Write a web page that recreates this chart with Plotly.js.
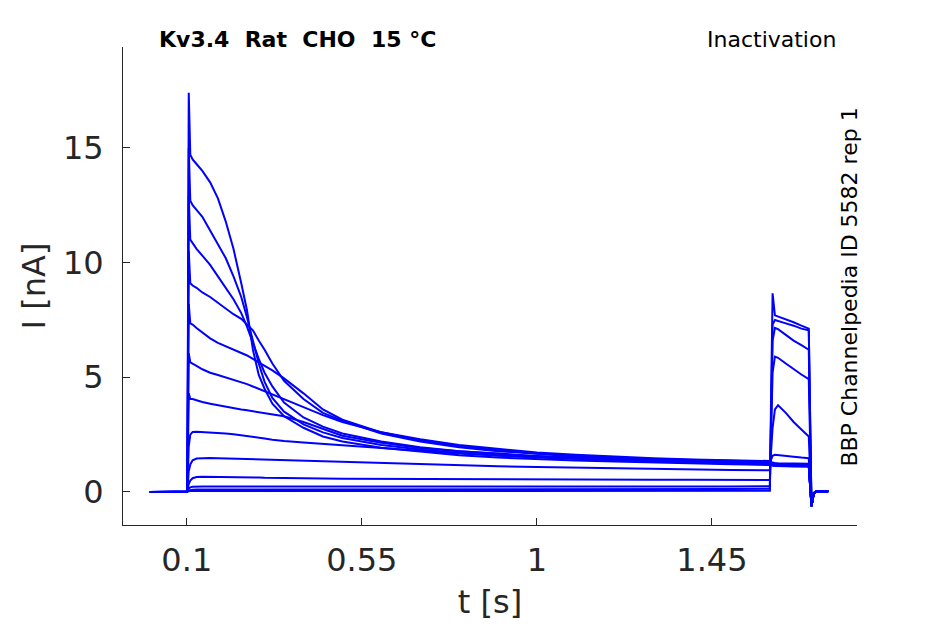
<!DOCTYPE html>
<html>
<head>
<meta charset="utf-8">
<script src="https://cdn.plot.ly/plotly-3.0.1.min.js"></script>
<style>
  html, body { margin: 0; padding: 0; background: #fff; }
  #myDiv { width: 945px; height: 624px; }
</style>
</head>
<body>
<div id="myDiv"></div>
<script>
// shared time base (s)
var t = [0.005, 0.05, 0.0995, 0.1015, 0.105, 0.109, 0.115, 0.125, 0.14, 0.16,
         0.18, 0.2, 0.22, 0.24, 0.255, 0.27, 0.285, 0.3, 0.32, 0.35,
         0.4, 0.45, 0.5, 0.6, 0.7, 0.8, 0.9, 1.0, 1.1, 1.2,
         1.3, 1.4, 1.5, 1.599, 1.602, 1.606, 1.612, 1.62, 1.64, 1.66,
         1.68, 1.699, 1.706, 1.712, 1.72, 1.749];

// currents (nA), one array per prepulse step, largest first
var i1 = [0, 0.01, 0, 0.05, 17.4, 14.7, 14.5, 14.3, 14.0, 13.5,
          12.8, 11.8, 10.6, 9.1, 7.9, 6.2, 5.1, 4.5, 3.85, 3.3,
          2.8, 2.42, 2.2, 1.93, 1.75, 1.6, 1.5, 1.43, 1.37, 1.33,
          1.28, 1.24, 1.21, 1.18, 1.15, 1.14, 1.13, 1.12, 1.12, 1.11,
          1.1, 1.1, -0.62, -0.05, 0.04, 0.03];
var i2 = [0, 0.01, 0, 0.05, 15.0, 12.7, 12.5, 12.3, 12.0, 11.4,
          10.8, 10.2, 9.4, 8.5, 7.6, 6.6, 5.6, 4.8, 4.1, 3.5,
          2.95, 2.6, 2.35, 2.05, 1.85, 1.7, 1.58, 1.5, 1.43, 1.38,
          1.33, 1.29, 1.25, 1.22, 1.19, 1.18, 1.17, 1.16, 1.15, 1.15,
          1.14, 1.14, -0.62, -0.05, 0.04, 0.03];
var i3 = [0, 0.01, 0, 0.05, 12.9, 11.0, 10.85, 10.6, 10.3, 9.9,
          9.4, 8.9, 8.4, 7.8, 7.2, 6.5, 5.8, 5.2, 4.6, 3.9,
          3.25, 2.85, 2.55, 2.2, 1.95, 1.78, 1.65, 1.55, 1.47, 1.41,
          1.36, 1.31, 1.28, 1.25, 1.22, 1.2, 1.19, 1.18, 1.17, 1.17,
          1.16, 1.16, -0.62, -0.05, 0.04, 0.03];
var i4 = [0, 0.01, 0, 0.05, 10.5, 9.1, 9.0, 8.9, 8.7, 8.5,
          8.25, 8.0, 7.75, 7.55, 7.3, 7.05, 6.6, 6.2, 5.6, 4.85,
          4.05, 3.45, 3.1, 2.55, 2.2, 1.95, 1.78, 1.65, 1.55, 1.48,
          1.42, 1.37, 1.33, 1.3, 1.26, 1.24, 1.22, 1.21, 1.2, 1.2,
          1.19, 1.19, -0.62, -0.05, 0.04, 0.03];
var i5 = [0, 0.01, 0, 0.05, 8.2, 7.35, 7.3, 7.15, 6.95, 6.7,
          6.5, 6.35, 6.2, 6.05, 5.95, 5.8, 5.65, 5.5, 5.3, 4.95,
          4.3, 3.6, 3.15, 2.6, 2.25, 2.0, 1.82, 1.68, 1.58, 1.5,
          1.44, 1.39, 1.35, 1.32, 1.27, 1.25, 1.23, 1.22, 1.21, 1.21,
          1.2, 1.2, -0.62, -0.05, 0.04, 0.03];
var i6 = [0, 0.01, 0, 0.05, 6.05, 5.65, 5.6, 5.5, 5.35, 5.2,
          5.1, 5.0, 4.9, 4.8, 4.7, 4.6, 4.5, 4.4, 4.25, 4.05,
          3.7, 3.35, 3.05, 2.6, 2.3, 2.05, 1.87, 1.72, 1.62, 1.54,
          1.47, 1.42, 1.38, 1.35, 1.3, 1.28, 1.26, 1.25, 1.24, 1.24,
          1.23, 1.23, -0.62, -0.05, 0.04, 0.03];
var i7 = [0, 0.01, 0, 0.05, 4.3, 4.05, 4.05, 4.0, 3.92, 3.85,
          3.78, 3.72, 3.66, 3.6, 3.56, 3.52, 3.46, 3.42, 3.37, 3.3,
          3.05, 2.75, 2.45, 2.15, 1.92, 1.78, 1.66, 1.57, 1.5, 1.44,
          1.39, 1.35, 1.32, 1.3, 1.26, 1.24, 1.23, 1.22, 1.21, 1.21,
          1.2, 1.2, -0.62, -0.05, 0.04, 0.03];
var i8 = [0, 0.01, 0, 0.05, 2.0, 2.5, 2.62, 2.63, 2.62, 2.6,
          2.58, 2.55, 2.52, 2.48, 2.44, 2.4, 2.37, 2.33, 2.28, 2.22,
          2.16, 2.1, 2.03, 1.9, 1.78, 1.68, 1.6, 1.53, 1.47, 1.42,
          1.38, 1.34, 1.3, 1.27, 1.4, 1.58, 1.62, 1.61, 1.57, 1.54,
          1.5, 1.47, -0.62, -0.05, 0.04, 0.03];
var i9 = [0, 0.01, 0, 0.05, 0.9, 1.2, 1.38, 1.46, 1.48, 1.48,
          1.47, 1.46, 1.45, 1.44, 1.43, 1.42, 1.41, 1.4, 1.39, 1.37,
          1.35, 1.32, 1.29, 1.24, 1.2, 1.16, 1.12, 1.09, 1.06, 1.03,
          1.0, 0.98, 0.96, 0.95, 1.6, 2.8, 3.6, 3.78, 3.45, 3.05,
          2.72, 2.42, -0.62, -0.05, 0.04, 0.03];
var i10 = [0, 0.01, 0, 0.03, 0.35, 0.5, 0.6, 0.65, 0.66, 0.66,
           0.66, 0.65, 0.65, 0.64, 0.64, 0.63, 0.63, 0.62, 0.62, 0.61,
           0.6, 0.59, 0.58, 0.57, 0.56, 0.56, 0.55, 0.55, 0.54, 0.54,
           0.53, 0.53, 0.52, 0.52, 2.5, 5.2, 5.9, 5.85, 5.6, 5.35,
           5.12, 4.92, -0.62, -0.05, 0.04, 0.03];
var i11 = [0, 0.01, 0, 0.02, 0.15, 0.2, 0.23, 0.24, 0.24, 0.24,
           0.24, 0.23, 0.23, 0.23, 0.23, 0.23, 0.23, 0.22, 0.22, 0.22,
           0.22, 0.22, 0.22, 0.21, 0.21, 0.21, 0.21, 0.21, 0.22, 0.22,
           0.22, 0.23, 0.24, 0.25, 3.0, 6.6, 7.15, 7.1, 6.85, 6.6,
           6.4, 6.2, -0.62, -0.05, 0.04, 0.03];
var i12 = [0, 0.01, 0, 0.01, 0.07, 0.09, 0.1, 0.11, 0.11, 0.1,
           0.1, 0.1, 0.1, 0.1, 0.1, 0.1, 0.1, 0.1, 0.1, 0.1,
           0.1, 0.1, 0.1, 0.1, 0.1, 0.11, 0.11, 0.11, 0.12, 0.12,
           0.12, 0.13, 0.13, 0.14, 3.5, 7.3, 7.5, 7.45, 7.35, 7.25,
           7.12, 7.05, -0.62, -0.05, 0.04, 0.03];
var i13 = [0, 0.01, 0, 0.01, 0.03, 0.04, 0.04, 0.04, 0.04, 0.04,
           0.04, 0.04, 0.04, 0.04, 0.04, 0.04, 0.04, 0.04, 0.04, 0.04,
           0.04, 0.04, 0.04, 0.04, 0.04, 0.04, 0.05, 0.05, 0.05, 0.05,
           0.05, 0.05, 0.05, 0.05, 4.0, 8.66, 7.7, 7.65, 7.55, 7.4,
           7.25, 7.12, -0.62, -0.05, 0.04, 0.03];

var xTicks = [0.1, 0.55, 1, 1.45];
var xTickText = ['0.1', '0.55', '1', '1.45'];
var yTicks = [0, 5, 10, 15];

var sweeps = [i1, i2, i3, i4, i5, i6, i7, i8, i9, i10, i11, i12, i13];

var data = sweeps.map(function (y) {
  return {
    x: t,
    y: y,
    type: 'scatter',
    mode: 'lines',
    line: {color: 'rgb(0,0,255)', width: 2},
    hoverinfo: 'skip',
    showlegend: false
  };
});

var axisGrey = 'rgb(38,38,38)';

var layout = {
  width: 945,
  height: 624,
  margin: {l: 123, r: 88, t: 47, b: 99},
  paper_bgcolor: '#fff',
  plot_bgcolor: '#fff',
  font: {family: 'DejaVu Sans', color: axisGrey},
  xaxis: {
    range: [-0.064, 1.823],
    tickvals: xTicks,
    ticktext: xTickText,
    ticks: 'inside',
    ticklen: 7,
    tickcolor: axisGrey,
    showline: true,
    linecolor: axisGrey,
    linewidth: 1,
    showgrid: false,
    zeroline: false,
    ticklabelstandoff: 7,
    tickfont: {size: 32, color: axisGrey},
    title: {text: 't [s]', font: {size: 32, color: axisGrey}, standoff: 12}
  },
  yaxis: {
    range: [-1.44, 19.4],
    tickvals: yTicks,
    ticks: 'inside',
    ticklen: 7,
    tickcolor: axisGrey,
    showline: true,
    linecolor: axisGrey,
    linewidth: 1,
    showgrid: false,
    zeroline: false,
    ticklabelstandoff: 12,
    tickfont: {size: 32, color: axisGrey},
    title: {text: 'I [nA]', font: {size: 32, color: axisGrey}, standoff: 7}
  },
  annotations: [
    {
      text: '<b>Kv3.4\u00a0\u00a0Rat\u00a0\u00a0CHO\u00a0\u00a015\u00a0°C</b>',
      xref: 'paper', yref: 'paper', x: 0.047, y: 1.015,
      xanchor: 'left', yanchor: 'middle', showarrow: false,
      font: {size: 22, color: '#000'}
    },
    {
      text: 'Inactivation',
      xref: 'paper', yref: 'paper', x: 0.974, y: 1.015,
      xanchor: 'right', yanchor: 'middle', showarrow: false,
      font: {size: 22, color: '#000'}
    },
    {
      text: 'BBP Channelpedia ID 5582 rep 1',
      xref: 'paper', yref: 'paper', x: 0.99, y: 0.498,
      xanchor: 'center', yanchor: 'middle', textangle: -90, showarrow: false,
      font: {size: 22, color: '#000'}
    }
  ]
};

Plotly.newPlot('myDiv', data, layout, {displayModeBar: false, staticPlot: true});
</script>
</body>
</html>
